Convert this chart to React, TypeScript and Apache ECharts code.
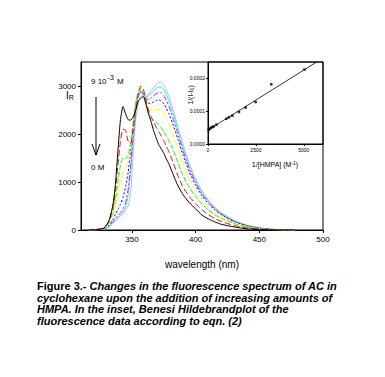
import React, { useEffect, useRef } from "react";
import * as echarts from "echarts";

// Wavelength grid (nm)
const wavelengths = [316, 322, 328, 332, 335, 337, 339, 341, 343, 345, 347, 349, 351, 353, 355, 357, 359, 361, 363, 365, 367, 369, 371, 373, 375, 377, 379, 382, 386, 390, 395, 400, 405, 410, 415, 420, 430, 440, 450, 460, 470, 478];

// Fluorescence intensity curves (I_R), highest [HMPA] -> 0 M
const blackCurve = [0, 10, 40, 200, 520, 950, 1650, 2300, 2570, 2420, 2300, 2290, 2360, 2500, 2680, 2750, 2780, 2620, 2420, 2260, 2070, 1920, 1780, 1690, 1600, 1480, 1380, 1180, 930, 740, 570, 440, 310, 230, 170, 120, 65, 25, 8, 0, 0, 0];
const redCurve = [0, 10, 40, 180, 460, 800, 1350, 1850, 2100, 2080, 1850, 1800, 2150, 2550, 2850, 3000, 2930, 2700, 2500, 2360, 2250, 2150, 2050, 1960, 1860, 1750, 1630, 1430, 1140, 900, 700, 550, 420, 320, 240, 180, 95, 45, 18, 5, 0, 0];
const greenCurve = [0, 8, 35, 160, 380, 640, 1000, 1350, 1500, 1490, 1550, 1800, 2250, 2650, 2880, 2960, 2860, 2620, 2430, 2340, 2290, 2250, 2200, 2130, 2050, 1960, 1860, 1690, 1410, 1140, 890, 700, 540, 420, 320, 245, 135, 65, 27, 8, 0, 0];
const yellowCurve = [0, 8, 30, 130, 300, 500, 780, 1020, 1180, 1280, 1420, 1700, 2150, 2600, 2850, 2940, 2860, 2660, 2530, 2480, 2480, 2500, 2510, 2490, 2420, 2320, 2210, 2010, 1710, 1400, 1080, 830, 640, 500, 380, 290, 155, 75, 30, 9, 2, 0];
const blueCurve = [0, 5, 25, 100, 220, 330, 430, 540, 680, 900, 1200, 1650, 2150, 2580, 2830, 2900, 2820, 2700, 2640, 2640, 2670, 2700, 2710, 2690, 2630, 2540, 2420, 2220, 1900, 1570, 1210, 930, 710, 550, 420, 320, 175, 88, 37, 11, 3, 0];
const magentaCurve = [0, 5, 20, 80, 170, 240, 300, 360, 430, 560, 850, 1350, 1950, 2500, 2800, 2880, 2820, 2740, 2720, 2750, 2800, 2840, 2860, 2860, 2800, 2700, 2580, 2350, 2010, 1660, 1280, 980, 750, 580, 440, 335, 185, 92, 40, 13, 4, 0];
const cyanCurve = [0, 5, 18, 70, 150, 210, 260, 310, 370, 470, 720, 1200, 1850, 2430, 2770, 2870, 2830, 2780, 2790, 2840, 2900, 2950, 2980, 2980, 2920, 2820, 2690, 2450, 2090, 1730, 1330, 1020, 780, 600, 455, 345, 190, 95, 42, 14, 4, 0];
const grayCurve = [0, 5, 15, 60, 130, 190, 240, 290, 340, 410, 500, 780, 1600, 2300, 2650, 2790, 2800, 2790, 2820, 2890, 2970, 3030, 3070, 3080, 3020, 2920, 2790, 2540, 2170, 1800, 1390, 1070, 820, 630, 480, 365, 205, 105, 48, 18, 6, 0];

// Main axis ticks
const mainXTicks = [350, 400, 450, 500];
const mainYTicks = [0, 1000, 2000, 3000];

// Inset: Benesi-Hildebrand plot
const insetX = [36, 89, 156, 229, 297, 438, 958, 1094, 1271, 1615, 1964, 2484, 3302, 5036];
const insetY = [0.0000436, 0.0000466, 0.0000497, 0.0000518, 0.0000537, 0.0000588, 0.0000771, 0.0000811, 0.0000863, 0.0000976, 0.000111, 0.000128, 0.000182, 0.000227];
const fitLineX = [0, 5670];
const fitLineY = [0.0000425, 0.00025];
const insetXTicks = [0, 2500, 5000];
const insetYTicks = [0, 0.0001, 0.0002];

const FONT = "Liberation Sans, Arial, sans-serif";

const curveDefs = [
  { name: "c1", data: blackCurve, color: "#000000", type: "solid" as any },
  { name: "c2", data: redCurve, color: "#ff0000", type: [6, 3] as any },
  { name: "c3", data: greenCurve, color: "#00ff00", type: [5, 2] as any },
  { name: "c4", data: yellowCurve, color: "#ffff00", type: [8, 2] as any },
  { name: "c5", data: blueCurve, color: "#0000ff", type: [2, 2] as any },
  { name: "c6", data: magentaCurve, color: "#ff00ff", type: [6, 2, 2, 2] as any },
  { name: "c7", data: cyanCurve, color: "#00ffff", type: "solid" as any },
  { name: "c8", data: grayCurve, color: "#c0c0c0", type: "solid" as any },
];

export default function App() {
  const ref = useRef<HTMLDivElement>(null);
  useEffect(() => {
    if (!ref.current) return;
    const chart = echarts.init(ref.current, null, { renderer: "svg" });
    const axisLineStyle = { lineStyle: { color: "#000", width: 1 } };
    const plain = (v: number) => String(v);
    const mainSeries = curveDefs
      .slice()
      .reverse()
      .map((c) => ({
        type: "line",
        name: c.name,
        xAxisIndex: 0,
        yAxisIndex: 0,
        data: wavelengths.map((w, i) => [w, c.data[i]]),
        symbol: "none",
        smooth: 0.2,
        lineStyle: { color: c.color, width: 1, type: c.type },
        z: 3,
      }));
    const option: any = {
      animation: false,
      backgroundColor: "#fff",
      textStyle: { fontFamily: FONT },
      grid: [
        { left: 81, top: 62, width: 242, height: 168, show: true, borderColor: "#000", borderWidth: 1, backgroundColor: "transparent" },
        { left: 208, top: 62, width: 115, height: 82, show: true, borderColor: "#000", borderWidth: 1, backgroundColor: "transparent" },
      ],
      xAxis: [
        {
          type: "value", gridIndex: 0, min: 310, max: 500,
          axisLine: axisLineStyle,
          axisTick: { show: true, length: 3, customValues: mainXTicks, lineStyle: { color: "#000" } },
          axisLabel: { customValues: mainXTicks, fontSize: 8, color: "#000", margin: 5, fontFamily: FONT, formatter: plain },
          splitLine: { show: false },
        },
        {
          type: "value", gridIndex: 1, min: 0, max: 6000,
          axisLine: axisLineStyle,
          axisTick: { show: true, length: 2, customValues: insetXTicks, lineStyle: { color: "#000" } },
          axisLabel: { customValues: insetXTicks, fontSize: 5, color: "#000", margin: 3, fontFamily: FONT, formatter: plain },
          splitLine: { show: false },
        },
      ],
      yAxis: [
        {
          type: "value", gridIndex: 0, min: 0, max: 3500,
          axisLine: { show: true, ...axisLineStyle },
          axisTick: { show: true, length: 3, customValues: mainYTicks, lineStyle: { color: "#000" } },
          axisLabel: { customValues: mainYTicks, fontSize: 8, color: "#000", margin: 5, fontFamily: FONT, formatter: plain },
          splitLine: { show: false },
        },
        {
          type: "value", gridIndex: 1, min: 0, max: 0.00025,
          axisLine: { show: true, ...axisLineStyle },
          axisTick: { show: true, length: 2, customValues: insetYTicks, lineStyle: { color: "#000" } },
          axisLabel: { customValues: insetYTicks, fontSize: 5, color: "#000", margin: 3, fontFamily: FONT, formatter: (v: number) => v.toFixed(4) },
          splitLine: { show: false },
        },
      ],
      series: [
        ...mainSeries,
        {
          type: "line", xAxisIndex: 1, yAxisIndex: 1,
          data: fitLineX.map((x, i) => [x, fitLineY[i]]),
          symbol: "none",
          lineStyle: { color: "#000", width: 0.8 },
          z: 3,
        },
        {
          type: "scatter", xAxisIndex: 1, yAxisIndex: 1,
          data: insetX.map((x, i) => [x, insetY[i]]),
          symbol: "rect", symbolSize: 2.5,
          itemStyle: { color: "#000" },
          z: 4,
        },
      ],
      graphic: [
        // I_R axis title
        {
          type: "text", left: 66, top: 90,
          style: {
            text: "{a|I}{b|R}",
            rich: {
              a: { fontSize: 10, fontFamily: FONT, fill: "#000" },
              b: { fontSize: 7, fontFamily: FONT, fill: "#000", verticalAlign: "bottom", padding: [5, 0, 0, 0] },
            },
          },
        },
        // concentration annotation
        {
          type: "text", left: 91, top: 74,
          style: {
            text: "{a|9 10}{s|-3}{a| M}",
            rich: {
              a: { fontSize: 8, fontFamily: FONT, fill: "#000", padding: [7, 0, 0, 0] },
              s: { fontSize: 7, fontFamily: FONT, fill: "#000", padding: [0, 1, 0, 1] },
            },
          },
        },
        { type: "line", shape: { x1: 96, y1: 97, x2: 96, y2: 155 }, style: { stroke: "#000", lineWidth: 1 } },
        { type: "polyline", shape: { points: [[92, 144], [96, 155], [100, 144]] }, style: { stroke: "#000", lineWidth: 1, fill: "none" } },
        { type: "text", left: 91, top: 163, style: { text: "0 M", fontSize: 8, fontFamily: FONT, fill: "#000" } },
        // main x title
        { type: "text", x: 202, y: 264, style: { text: "wavelength (nm)", fontSize: 10, fontFamily: FONT, fill: "#000", align: "center", verticalAlign: "middle" } },
        // inset titles
        {
          type: "text", x: 275, y: 163,
          style: {
            text: "{a|1/[HMPA] (M}{s|-1}{a|)}",
            align: "center", verticalAlign: "middle",
            rich: {
              a: { fontSize: 7, fontFamily: FONT, fill: "#000", padding: [3, 0, 0, 0] },
              s: { fontSize: 5, fontFamily: FONT, fill: "#000" },
            },
          },
        },
        {
          type: "text", x: 190, y: 95, rotation: Math.PI / 2,
          style: {
            text: "{a|1/(I-I}{s|0}{a|)}",
            align: "center", verticalAlign: "middle",
            rich: {
              a: { fontSize: 7, fontFamily: FONT, fill: "#000" },
              s: { fontSize: 5, fontFamily: FONT, fill: "#000", padding: [3, 0, 0, 0] },
            },
          },
        },
        // caption
        {
          type: "text", left: 37, top: 280,
          style: {
            text: "{b|Figure 3.- }{i|Changes in the fluorescence spectrum of AC in}",
            rich: {
              b: { fontSize: 11, fontWeight: "bold", fontFamily: FONT, fill: "#000" },
              i: { fontSize: 11, fontWeight: "bold", fontStyle: "italic", fontFamily: FONT, fill: "#000" },
            },
          },
        },
        { type: "text", left: 37, top: 292, style: { text: "cyclohexane upon the addition of increasing amounts of", fontSize: 11, fontWeight: "bold", fontStyle: "italic", fontFamily: FONT, fill: "#000" } },
        { type: "text", left: 37, top: 303, style: { text: "HMPA. In the inset, Benesi Hildebrandplot of the", fontSize: 11, fontWeight: "bold", fontStyle: "italic", fontFamily: FONT, fill: "#000" } },
        { type: "text", left: 37, top: 315, style: { text: "fluorescence data according to eqn. (2)", fontSize: 11, fontWeight: "bold", fontStyle: "italic", fontFamily: FONT, fill: "#000" } },
      ],
    };
    chart.setOption(option);
    return () => chart.dispose();
  }, []);
  return (
    <div
      ref={ref}
      style={{ position: "fixed", left: 0, top: 0, width: 385, height: 377, background: "#fff" }}
    />
  );
}
